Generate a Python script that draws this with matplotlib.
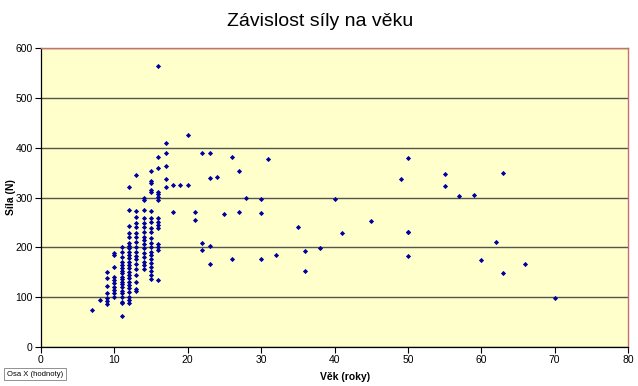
import matplotlib
matplotlib.use("Agg")
import matplotlib.pyplot as plt

# ---- data: age (years) and force (N) ----
age_7 = [7]; f_7 = [75]
age_8 = [8]; f_8 = [95]
f_9 = [151, 138, 122, 108, 98, 92, 86]
f_10 = [189, 185, 161, 141, 134, 128, 121, 114, 108, 100]
f_11 = [200, 190, 181, 171, 165, 158, 153, 148, 141, 136, 131, 126, 120, 113, 108, 101, 91, 88, 63]
f_12 = [322, 275, 243, 229, 221, 209, 203, 198, 191, 185, 178, 171, 165, 158, 151, 144, 138, 131, 124, 118, 111, 101, 94, 88]
f_13 = [345, 272, 260, 249, 240, 229, 220, 211, 201, 191, 183, 176, 167, 156, 144, 131, 116, 113]
f_14 = [300, 294, 275, 258, 249, 240, 231, 221, 215, 207, 198, 189, 181, 171, 165, 156]
f_15 = [353, 334, 329, 315, 312, 272, 258, 251, 238, 231, 218, 208, 201, 191, 185, 176, 168, 161, 153, 144, 136]
f_16 = [564, 382, 359, 312, 307, 302, 295, 258, 251, 245, 238, 207, 201, 195, 134]
f_17 = [409, 389, 363, 337, 322]

older_age = [18, 18, 19, 20, 20, 21, 21, 22, 22, 22, 23, 23, 23, 23, 24, 25, 26, 26,
             27, 27, 28, 30, 30, 30, 31, 32, 35, 36, 36, 38, 40, 41, 45, 49, 50, 50,
             50, 50, 55, 55, 57, 59, 60, 62, 63, 63, 66, 70]
older_force = [326, 270, 325, 426, 325, 270, 254, 389, 209, 194, 390, 339, 202, 167, 342, 266, 382, 177,
               354, 271, 300, 296, 269, 176, 378, 185, 241, 193, 153, 198, 296, 228, 253, 338, 380,
               231, 183, 231, 347, 323, 304, 306, 175, 211, 350, 148, 167, 99]

ages = (age_7 + age_8 + [9] * len(f_9) + [10] * len(f_10) + [11] * len(f_11) +
        [12] * len(f_12) + [13] * len(f_13) + [14] * len(f_14) + [15] * len(f_15) +
        [16] * len(f_16) + [17] * len(f_17) + older_age)
forces = (f_7 + f_8 + f_9 + f_10 + f_11 + f_12 + f_13 + f_14 + f_15 + f_16 + f_17 + older_force)

x_ticks = [0, 10, 20, 30, 40, 50, 60, 70, 80]
y_ticks = [0, 100, 200, 300, 400, 500, 600]

plt.rcParams['font.family'] = ['Liberation Sans', 'DejaVu Sans']

fig = plt.figure(figsize=(6.38, 3.86), dpi=100)
ax = fig.add_axes([41/638, 1 - 347/386, (628 - 41)/638, (347 - 48)/386])
ax.set_facecolor('#FFFFCC')

ax.scatter(ages, forces, marker='D', s=7, color='#0000A0', linewidths=0, zorder=3)

ax.set_xlim(0, 80)
ax.set_ylim(0, 600)
ax.set_xticks(x_ticks)
ax.set_yticks(y_ticks)
ax.tick_params(labelsize=7.5, length=4, width=0.8, direction='out', color='black', pad=2)
ax.yaxis.grid(True, color='#55554a', linewidth=1)
ax.set_axisbelow(True)

for s in ['left', 'bottom']:
    ax.spines[s].set_color('black')
    ax.spines[s].set_linewidth(0.9)
for s in ['top', 'right']:
    ax.spines[s].set_color('#C87070')
    ax.spines[s].set_linewidth(1.0)

ax.set_xlabel('Věk (roky)', fontsize=7.5, fontweight='bold')
ax.set_ylabel('Síla (N)', fontsize=7.5, fontweight='bold')
ax.xaxis.set_label_coords((345 - 41) / 587, -(377 - 347) / 299)
ax.yaxis.set_label_coords(-(41 - 11) / 587, 0.5)
ax.xaxis.label.set_va('center')
ax.yaxis.label.set_va('center')

fig.text(0.502, 1 - 22/386, 'Závislost síly na věku', ha='center', va='center', fontsize=14)
fig.text(7/638, 1 - 374/386, 'Osa X (hodnoty)', ha='left', va='center', fontsize=5.5,
         bbox=dict(boxstyle='square,pad=0.35', facecolor='white', edgecolor='#808080', linewidth=0.6))

fig.savefig('out.png', dpi=100, facecolor='white')
